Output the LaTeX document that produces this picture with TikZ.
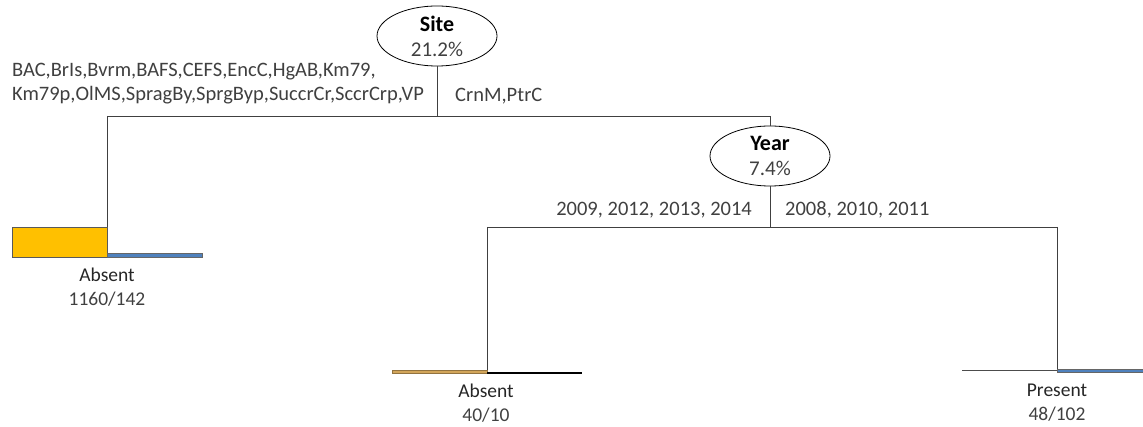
\documentclass[tikz,border=0pt]{standalone}
\usepackage{fontspec}
\setmainfont{Carlito}
\usetikzlibrary{shapes.geometric}

\definecolor{barorange}{HTML}{FFC000}
\definecolor{barblue}{HTML}{4F81BD}
\definecolor{bartan}{HTML}{D2A55A}
\definecolor{txtgray}{HTML}{404040}

\tikzset{
  split/.style={ellipse,draw,thick,minimum width=120pt,minimum height=60pt,
    inner sep=0pt,align=center,font=\fontsize{21}{25}\selectfont},
  branch/.style={draw,black!75,semithick},
  lbl/.style={inner sep=0pt,text=txtgray,font=\fontsize{20.5}{24}\selectfont},
  cls/.style={inner sep=0pt,anchor=base,text=black!85,font=\fontsize{19.5}{24}\selectfont},
  cnt/.style={inner sep=0pt,anchor=base,text=txtgray,font=\fontsize{19.5}{24}\selectfont}
}

\begin{document}
\begin{tikzpicture}[x=1pt,y=-1pt]
\useasboundingbox (0,0) rectangle (1143,427);

% split nodes
\node[split] (site) at (437,36) {\textbf{\fontsize{22}{25}\selectfont Site}\\\textcolor{txtgray}{21.2\%}};
\node[split] (year) at (770,156) {\textbf{\fontsize{22}{25}\selectfont Year}\\\textcolor{txtgray}{7.4\%}};

% branch points
\coordinate (siteL) at (107,116);
\coordinate (siteR) at (770,116);
\coordinate (yearL) at (487,227);
\coordinate (yearR) at (1057,227);
\coordinate (leafA) at (107,257);
\coordinate (leafB) at (487,373);
\coordinate (leafC) at (1057,371);

\draw[branch] (site.south) -- (site.south |- siteL);
\draw[branch] (siteL) -- (siteR);
\draw[branch] (siteL) -- (leafA);
\draw[branch] (siteR) -- (year.north);
\draw[branch] (year.south) -- (year.south |- yearL);
\draw[branch] (yearL) -- (yearR);
\draw[branch] (yearL) -- (leafB);
\draw[branch] (yearR) -- (leafC);

% split labels
\node[lbl,anchor=base west,align=left] (siteLtxt) at (12,101)
  {BAC,BrIs,Bvrm,BAFS,CEFS,EncC,HgAB,Km79,\\Km79p,OlMS,SpragBy,SprgByp,SuccrCr,SccrCrp,VP};
\node[lbl,anchor=base west] (siteRtxt) at (455,102) {CrnM,PtrC};
\node[lbl,anchor=base east] (yearLtxt) at (752,216) {2009, 2012, 2013, 2014};
\node[lbl,anchor=base west] (yearRtxt) at (785,216) {2008, 2010, 2011};

% leaf bars
\draw[fill=barorange,draw=black!65] (12,227) rectangle (leafA);
\draw[fill=barblue,draw=black!60] (leafA) rectangle (202,253.5);
\draw[fill=bartan,draw=bartan!70!black] (392,370.5) rectangle (leafB);
\draw[black,line width=1.5pt] (leafB) -- (582,373);
\draw[black!70,line width=1pt] (962,371) -- (leafC);
\draw[fill=barblue,draw=black!60] (1057,369.5) rectangle (1143,372.5);

% leaf labels
\node[cls] (clsA) at (107,282) {Absent};
\node[cnt] (cntA) at (107,306) {1160/142};
\node[cls] (clsB) at (486,398) {Absent};
\node[cnt] (cntB) at (486,421) {40/10};
\node[cls] (clsC) at (1057,396) {Present};
\node[cnt] (cntC) at (1057,420) {48/102};
\end{tikzpicture}
\end{document}
